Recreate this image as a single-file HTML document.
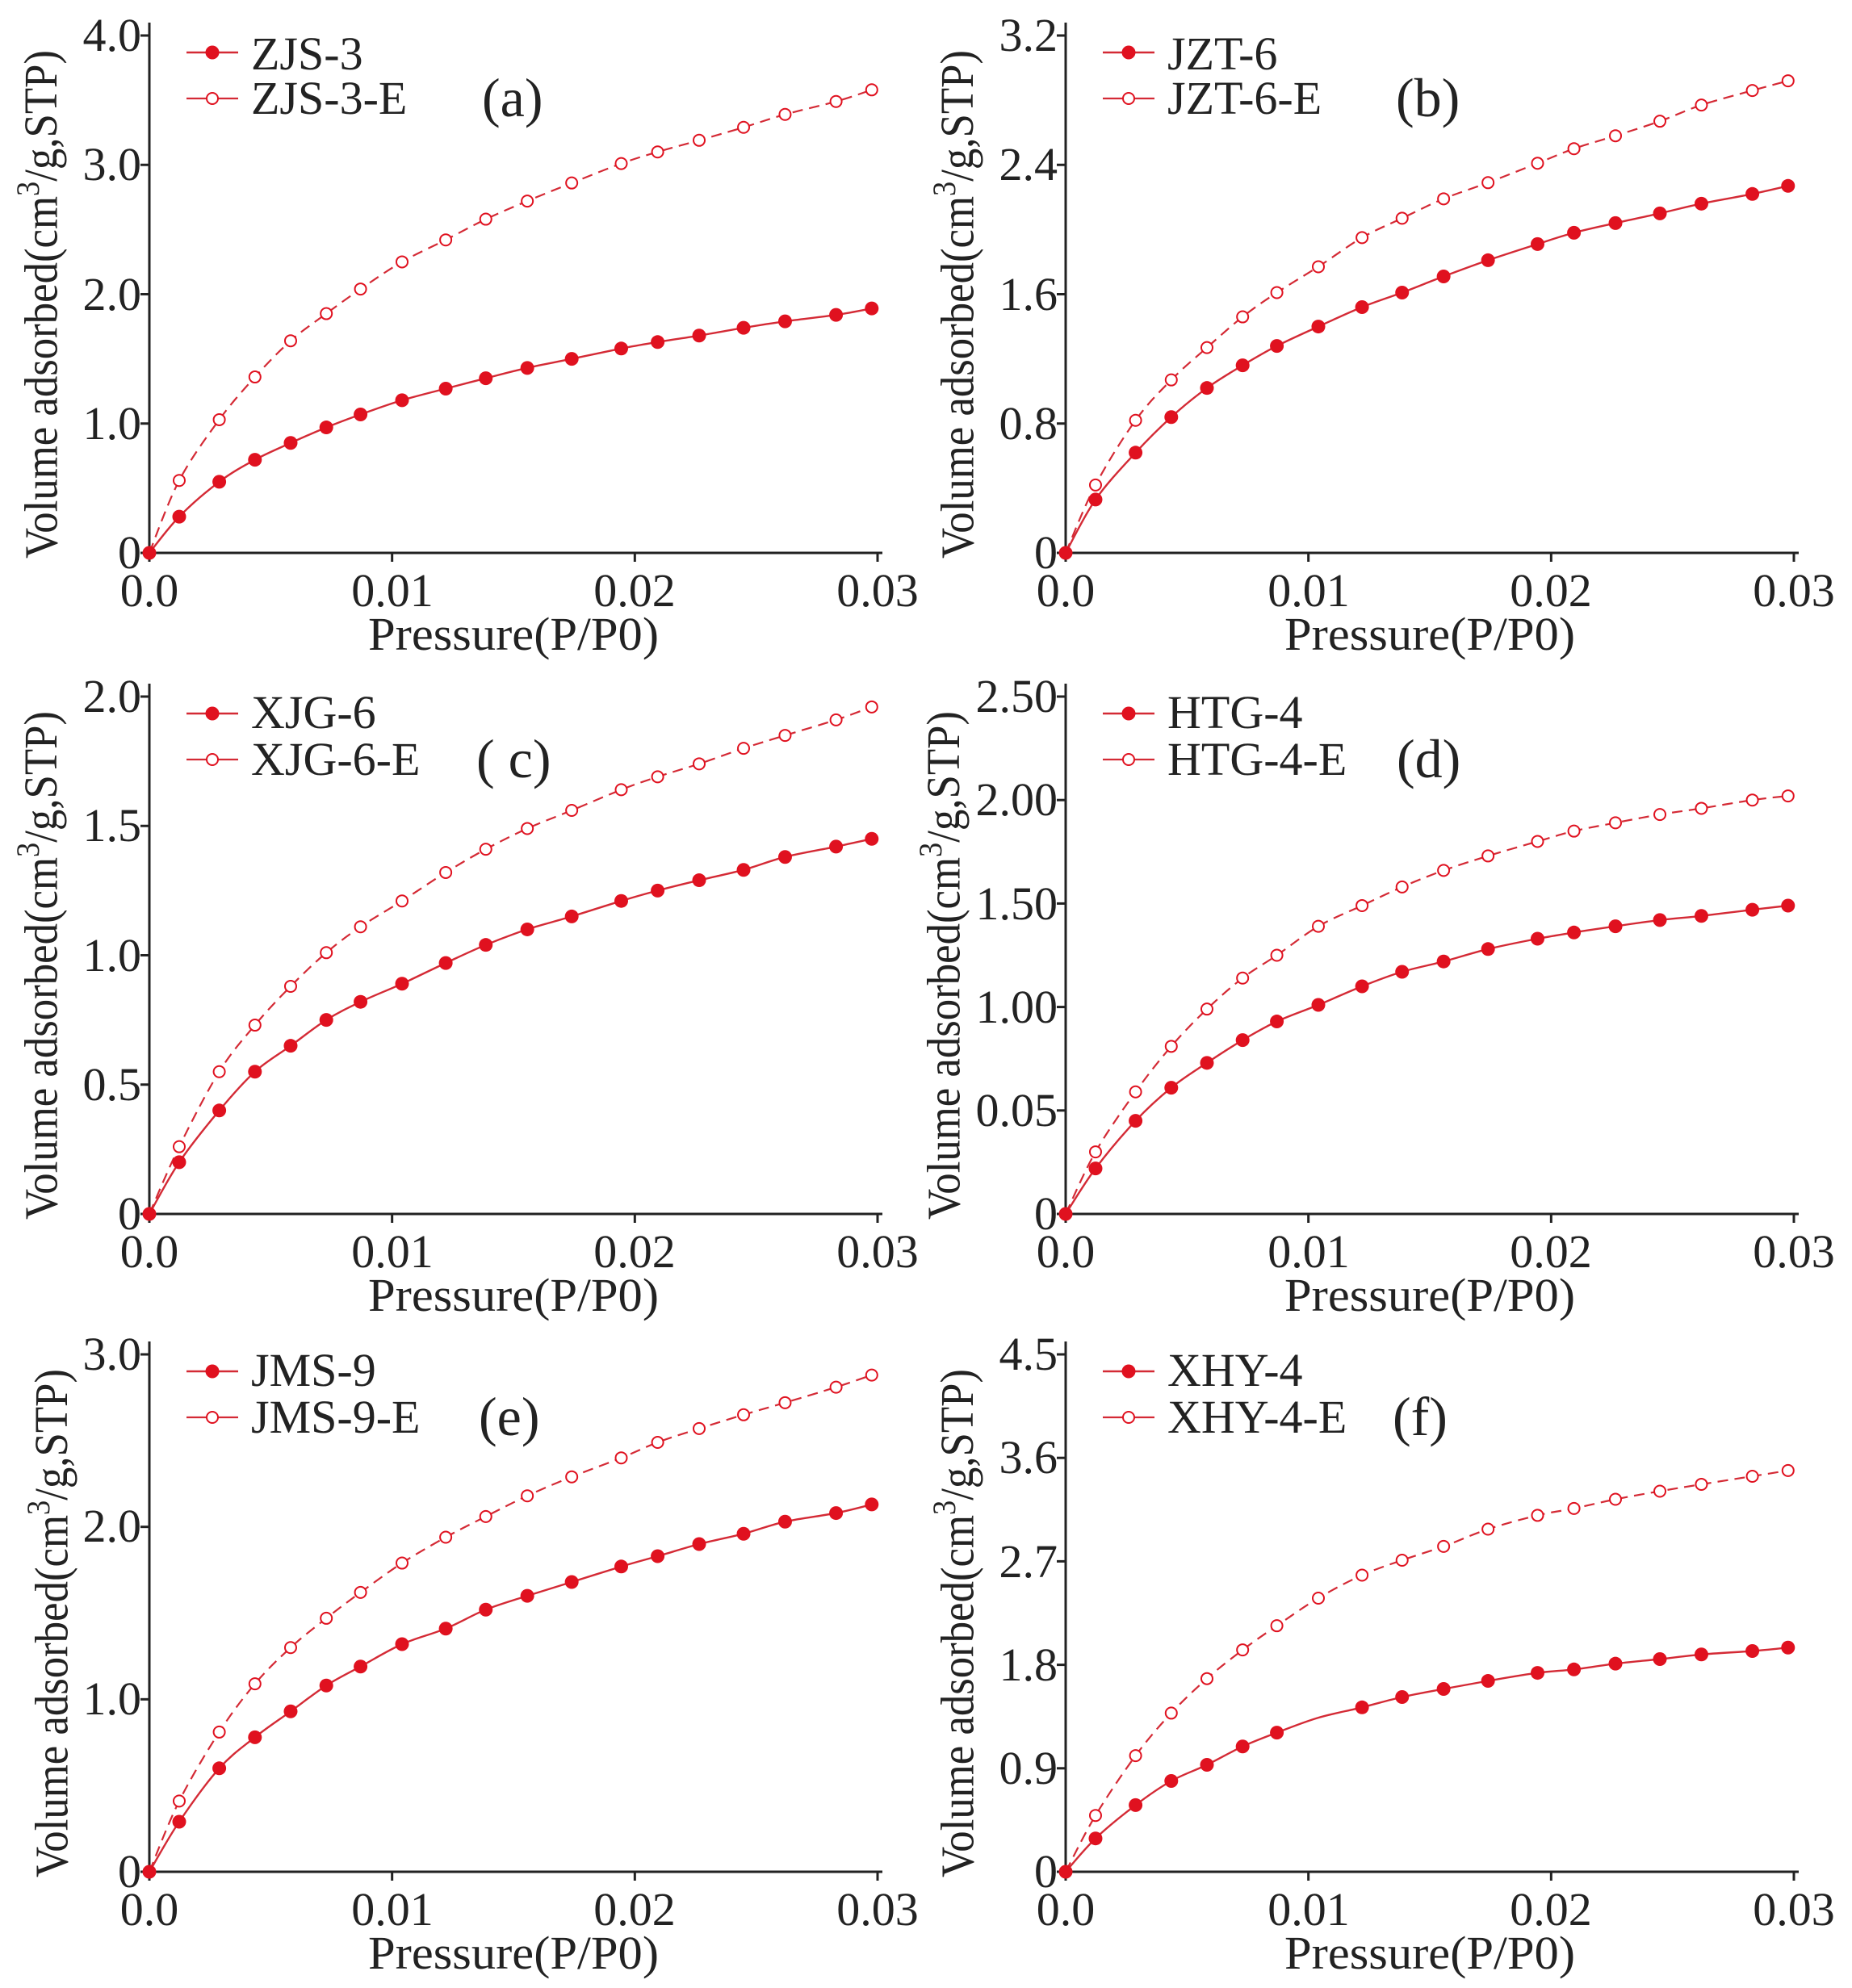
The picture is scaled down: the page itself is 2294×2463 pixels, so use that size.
<!DOCTYPE html>
<html><head><meta charset="utf-8"><style>
html,body{margin:0;padding:0;background:#fff}
svg{display:block}
text{font-family:"Liberation Serif",serif;fill:#222}
.tk{font-size:58px}
.tt{font-size:58px}
.lg{font-size:58px}
.lb{font-size:68px}
</style></head><body>
<svg id="s" width="2294" height="2463" viewBox="0 0 2294 2463" xmlns="http://www.w3.org/2000/svg">
<rect width="2294" height="2463" fill="#fff"/>
<g id="pa" transform="translate(185,685)">
<text class="tk" x="-10" y="19" text-anchor="end">0</text>
<text class="tk" x="-10" y="-141" text-anchor="end">1.0</text>
<text class="tk" x="-10" y="-301" text-anchor="end">2.0</text>
<text class="tk" x="-10" y="-462" text-anchor="end">3.0</text>
<text class="tk" x="-10" y="-622" text-anchor="end">4.0</text>
<text class="lg" x="126" y="-599">ZJS-3</text>
<text class="lg" x="126" y="-544">ZJS-3-E</text>
<text class="lb" x="412" y="-541">(a)</text>
<text class="tt" x="-128" y="-308" text-anchor="middle" transform="rotate(-90 -128 -308)" dominant-baseline="middle" textLength="630" lengthAdjust="spacingAndGlyphs">Volume adsorbed(cm<tspan font-size="40" dy="-18">3</tspan><tspan dy="18">/g,STP)</tspan></text>
</g>
<g id="pb" transform="translate(1320,685)">
<text class="tk" x="-10" y="19" text-anchor="end">0</text>
<text class="tk" x="-10" y="-141" text-anchor="end">0.8</text>
<text class="tk" x="-10" y="-301" text-anchor="end">1.6</text>
<text class="tk" x="-10" y="-462" text-anchor="end">2.4</text>
<text class="tk" x="-10" y="-622" text-anchor="end">3.2</text>
<text class="lg" x="126" y="-599">JZT-6</text>
<text class="lg" x="126" y="-544">JZT-6-E</text>
<text class="lb" x="409" y="-541">(b)</text>
<text class="tt" x="-128" y="-308" text-anchor="middle" transform="rotate(-90 -128 -308)" dominant-baseline="middle" textLength="630" lengthAdjust="spacingAndGlyphs">Volume adsorbed(cm<tspan font-size="40" dy="-18">3</tspan><tspan dy="18">/g,STP)</tspan></text>
</g>
<g id="pc" transform="translate(185,1504)">
<text class="tk" x="-10" y="19" text-anchor="end">0</text>
<text class="tk" x="-10" y="-141" text-anchor="end">0.5</text>
<text class="tk" x="-10" y="-301" text-anchor="end">1.0</text>
<text class="tk" x="-10" y="-462" text-anchor="end">1.5</text>
<text class="tk" x="-10" y="-622" text-anchor="end">2.0</text>
<text class="lg" x="126" y="-602">XJG-6</text>
<text class="lg" x="126" y="-544">XJG-6-E</text>
<text class="lb" x="405" y="-541">( c)</text>
<text class="tt" x="-128" y="-308" text-anchor="middle" transform="rotate(-90 -128 -308)" dominant-baseline="middle" textLength="630" lengthAdjust="spacingAndGlyphs">Volume adsorbed(cm<tspan font-size="40" dy="-18">3</tspan><tspan dy="18">/g,STP)</tspan></text>
</g>
<g id="pd" transform="translate(1320,1504)">
<text class="tk" x="-10" y="19" text-anchor="end">0</text>
<text class="tk" x="-10" y="-109" text-anchor="end">0.05</text>
<text class="tk" x="-10" y="-237" text-anchor="end">1.00</text>
<text class="tk" x="-10" y="-365" text-anchor="end">1.50</text>
<text class="tk" x="-10" y="-494" text-anchor="end">2.00</text>
<text class="tk" x="-10" y="-622" text-anchor="end">2.50</text>
<text class="lg" x="126" y="-602">HTG-4</text>
<text class="lg" x="126" y="-544">HTG-4-E</text>
<text class="lb" x="410" y="-541">(d)</text>
<text class="tt" x="-145" y="-308" text-anchor="middle" transform="rotate(-90 -145 -308)" dominant-baseline="middle" textLength="630" lengthAdjust="spacingAndGlyphs">Volume adsorbed(cm<tspan font-size="40" dy="-18">3</tspan><tspan dy="18">/g,STP)</tspan></text>
</g>
<g id="pe" transform="translate(185,2319)">
<text class="tk" x="-10" y="19" text-anchor="end">0</text>
<text class="tk" x="-10" y="-195" text-anchor="end">1.0</text>
<text class="tk" x="-10" y="-409" text-anchor="end">2.0</text>
<text class="tk" x="-10" y="-622" text-anchor="end">3.0</text>
<text class="lg" x="126" y="-602">JMS-9</text>
<text class="lg" x="126" y="-544">JMS-9-E</text>
<text class="lb" x="408" y="-541">(e)</text>
<text class="tt" x="-115" y="-308" text-anchor="middle" transform="rotate(-90 -115 -308)" dominant-baseline="middle" textLength="630" lengthAdjust="spacingAndGlyphs">Volume adsorbed(cm<tspan font-size="40" dy="-18">3</tspan><tspan dy="18">/g,STP)</tspan></text>
</g>
<g id="pf" transform="translate(1320,2319)">
<text class="tk" x="-10" y="19" text-anchor="end">0</text>
<text class="tk" x="-10" y="-109" text-anchor="end">0.9</text>
<text class="tk" x="-10" y="-237" text-anchor="end">1.8</text>
<text class="tk" x="-10" y="-365" text-anchor="end">2.7</text>
<text class="tk" x="-10" y="-494" text-anchor="end">3.6</text>
<text class="tk" x="-10" y="-622" text-anchor="end">4.5</text>
<text class="lg" x="126" y="-602">XHY-4</text>
<text class="lg" x="126" y="-544">XHY-4-E</text>
<text class="lb" x="405" y="-541">(f)</text>
<text class="tt" x="-128" y="-308" text-anchor="middle" transform="rotate(-90 -128 -308)" dominant-baseline="middle" textLength="630" lengthAdjust="spacingAndGlyphs">Volume adsorbed(cm<tspan font-size="40" dy="-18">3</tspan><tspan dy="18">/g,STP)</tspan></text>
</g>
<g id="xa">
<g transform="translate(185,685)"><text class="tk" x="0" y="66" text-anchor="middle">0.0</text><text class="tk" x="301" y="66" text-anchor="middle">0.01</text><text class="tk" x="601" y="66" text-anchor="middle">0.02</text><text class="tk" x="902" y="66" text-anchor="middle">0.03</text><text class="tt" x="451" y="120" text-anchor="middle" textLength="360" lengthAdjust="spacingAndGlyphs">Pressure(P/P0)</text></g>
<g transform="translate(1320,685)"><text class="tk" x="0" y="66" text-anchor="middle">0.0</text><text class="tk" x="301" y="66" text-anchor="middle">0.01</text><text class="tk" x="601" y="66" text-anchor="middle">0.02</text><text class="tk" x="902" y="66" text-anchor="middle">0.03</text><text class="tt" x="451" y="120" text-anchor="middle" textLength="360" lengthAdjust="spacingAndGlyphs">Pressure(P/P0)</text></g>
<g transform="translate(185,1504)"><text class="tk" x="0" y="66" text-anchor="middle">0.0</text><text class="tk" x="301" y="66" text-anchor="middle">0.01</text><text class="tk" x="601" y="66" text-anchor="middle">0.02</text><text class="tk" x="902" y="66" text-anchor="middle">0.03</text><text class="tt" x="451" y="120" text-anchor="middle" textLength="360" lengthAdjust="spacingAndGlyphs">Pressure(P/P0)</text></g>
<g transform="translate(1320,1504)"><text class="tk" x="0" y="66" text-anchor="middle">0.0</text><text class="tk" x="301" y="66" text-anchor="middle">0.01</text><text class="tk" x="601" y="66" text-anchor="middle">0.02</text><text class="tk" x="902" y="66" text-anchor="middle">0.03</text><text class="tt" x="451" y="120" text-anchor="middle" textLength="360" lengthAdjust="spacingAndGlyphs">Pressure(P/P0)</text></g>
<g transform="translate(185,2319)"><text class="tk" x="0" y="66" text-anchor="middle">0.0</text><text class="tk" x="301" y="66" text-anchor="middle">0.01</text><text class="tk" x="601" y="66" text-anchor="middle">0.02</text><text class="tk" x="902" y="66" text-anchor="middle">0.03</text><text class="tt" x="451" y="120" text-anchor="middle" textLength="360" lengthAdjust="spacingAndGlyphs">Pressure(P/P0)</text></g>
<g transform="translate(1320,2319)"><text class="tk" x="0" y="66" text-anchor="middle">0.0</text><text class="tk" x="301" y="66" text-anchor="middle">0.01</text><text class="tk" x="601" y="66" text-anchor="middle">0.02</text><text class="tk" x="902" y="66" text-anchor="middle">0.03</text><text class="tt" x="451" y="120" text-anchor="middle" textLength="360" lengthAdjust="spacingAndGlyphs">Pressure(P/P0)</text></g>
</g>
</svg>
<script>
(function(){
var NS="http://www.w3.org/2000/svg";
var F=[0,.041,.096,.145,.194,.243,.290,.347,.407,.462,.519,.580,.648,.698,.755,.816,.873,.943,.992];
var W=902,H=641,C="#e0111f",LC="#d42a35";
var P=[
{id:"pa",max:4,nt:4,c:[0,.28,.55,.72,.85,.97,1.07,1.18,1.27,1.35,1.43,1.50,1.58,1.63,1.68,1.74,1.79,1.84,1.89],o:[0,.56,1.03,1.36,1.64,1.85,2.04,2.25,2.42,2.58,2.72,2.86,3.01,3.10,3.19,3.29,3.39,3.49,3.58]},
{id:"pb",max:3.2,nt:4,c:[0,.33,.62,.84,1.02,1.16,1.28,1.40,1.52,1.61,1.71,1.81,1.91,1.98,2.04,2.10,2.16,2.22,2.27],o:[0,.42,.82,1.07,1.27,1.46,1.61,1.77,1.95,2.07,2.19,2.29,2.41,2.50,2.58,2.67,2.77,2.86,2.92]},
{id:"pc",max:2,nt:4,c:[0,.20,.40,.55,.65,.75,.82,.89,.97,1.04,1.10,1.15,1.21,1.25,1.29,1.33,1.38,1.42,1.45],o:[0,.26,.55,.73,.88,1.01,1.11,1.21,1.32,1.41,1.49,1.56,1.64,1.69,1.74,1.80,1.85,1.91,1.96]},
{id:"pd",max:2.5,nt:5,c:[0,.22,.45,.61,.73,.84,.93,1.01,1.10,1.17,1.22,1.28,1.33,1.36,1.39,1.42,1.44,1.47,1.49],o:[0,.30,.59,.81,.99,1.14,1.25,1.39,1.49,1.58,1.66,1.73,1.80,1.85,1.89,1.93,1.96,2.00,2.02]},
{id:"pe",max:3,nt:3,c:[0,.29,.60,.78,.93,1.08,1.19,1.32,1.41,1.52,1.60,1.68,1.77,1.83,1.90,1.96,2.03,2.08,2.13],o:[0,.41,.81,1.09,1.30,1.47,1.62,1.79,1.94,2.06,2.18,2.29,2.40,2.49,2.57,2.65,2.72,2.81,2.88]},
{id:"pf",max:4.5,nt:5,c:[0,.29,.58,.79,.93,1.09,1.21,1.34,1.43,1.52,1.59,1.66,1.73,1.76,1.81,1.85,1.89,1.92,1.95],o:[0,.49,1.01,1.38,1.68,1.93,2.14,2.38,2.58,2.71,2.83,2.98,3.10,3.16,3.24,3.31,3.37,3.44,3.49]}
];
function el(g,t,a){var e=document.createElementNS(NS,t);for(var k in a)e.setAttribute(k,a[k]);g.appendChild(e);return e;}
function path(pts){var d="M"+pts[0][0]+","+pts[0][1];for(var i=0;i<pts.length-1;i++){var p0=pts[i-1]||pts[i],p1=pts[i],p2=pts[i+1],p3=pts[i+2]||p2;
d+=" C"+(p1[0]+(p2[0]-p0[0])/6).toFixed(1)+","+(p1[1]+(p2[1]-p0[1])/6).toFixed(1)+" "+(p2[0]-(p3[0]-p1[0])/6).toFixed(1)+","+(p2[1]-(p3[1]-p1[1])/6).toFixed(1)+" "+p2[0].toFixed(1)+","+p2[1].toFixed(1);}return d;}
P.forEach(function(p){
var g=document.getElementById(p.id);
el(g,"line",{x1:0,y1:0,x2:0,y2:-H-16,stroke:"#222","stroke-width":3});
el(g,"line",{x1:-2,y1:0,x2:W+6,y2:0,stroke:"#222","stroke-width":3});
for(var i=0;i<=p.nt;i++){var y=-H*i/p.nt;el(g,"line",{x1:-11,y1:y,x2:0,y2:y,stroke:"#222","stroke-width":3});}
for(var j=0;j<=3;j++){var x=W*j/3;el(g,"line",{x1:x,y1:0,x2:x,y2:11,stroke:"#222","stroke-width":3});}
var sc=H/p.max;
var pc=F.map(function(f,i){return [f*W,-p.c[i]*sc];});
var po=F.map(function(f,i){return [f*W,-p.o[i]*sc];});
el(g,"path",{d:path(po),fill:"none",stroke:LC,"stroke-width":2.2,"stroke-dasharray":"13,8"});
el(g,"path",{d:path(pc),fill:"none",stroke:LC,"stroke-width":2.4});
po.forEach(function(q){el(g,"circle",{cx:q[0],cy:q[1],r:7,fill:"#fff",stroke:C,"stroke-width":2});});
pc.forEach(function(q,i){if(p.id=="pf"&&i==7)return;el(g,"circle",{cx:q[0],cy:q[1],r:8.5,fill:C});});
var y1=-620, y2=-563;
el(g,"line",{x1:46,y1:y1,x2:110,y2:y1,stroke:LC,"stroke-width":2.4});
el(g,"circle",{cx:78,cy:y1,r:8.5,fill:C});
el(g,"line",{x1:46,y1:y2,x2:110,y2:y2,stroke:LC,"stroke-width":2.2});
el(g,"circle",{cx:78,cy:y2,r:7,fill:"#fff",stroke:C,"stroke-width":2});
});
})();
</script>
</body></html>
